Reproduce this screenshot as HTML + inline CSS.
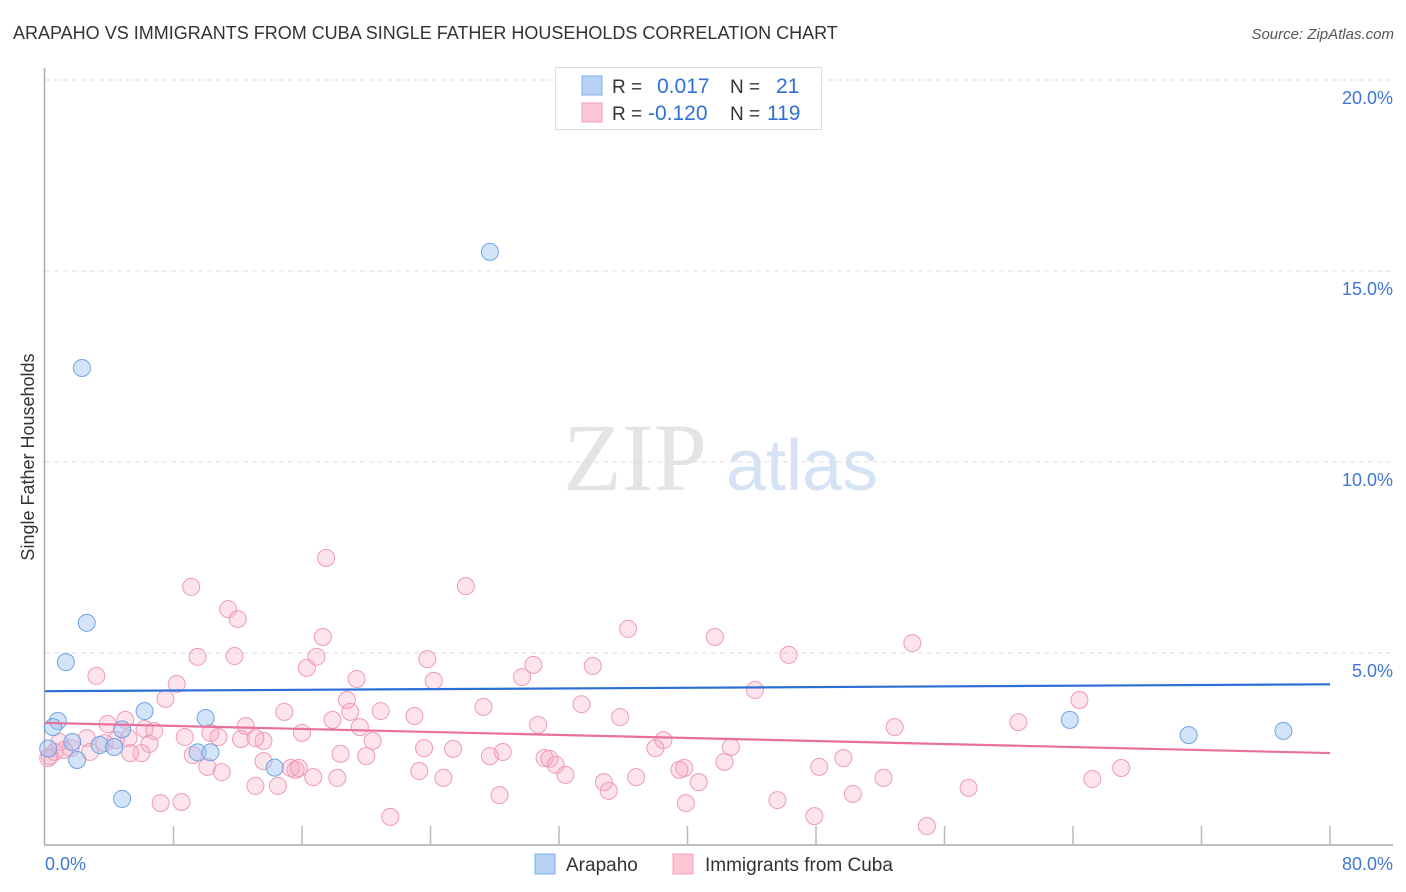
<!DOCTYPE html>
<html><head><meta charset="utf-8"><style>
body{margin:0;background:#fff;font-family:"Liberation Sans",sans-serif;}
svg{display:block}
</style></head><body>
<svg id="chart" width="1406" height="892" xmlns="http://www.w3.org/2000/svg">
<text x="13" y="39" font-size="18" fill="#333">ARAPAHO VS IMMIGRANTS FROM CUBA SINGLE FATHER HOUSEHOLDS CORRELATION CHART</text>
<text x="1394" y="39" font-size="15" fill="#555" font-style="italic" text-anchor="end">Source: ZipAtlas.com</text>
<g><text x="635" y="490" font-size="96" fill="#e4e4e4" font-family="Liberation Serif,serif" text-anchor="middle">ZIP</text><text x="802" y="490" font-size="72" fill="#d5e3f5" text-anchor="middle">atlas</text></g>
<text transform="translate(34,457) rotate(-90)" font-size="18" fill="#333" text-anchor="middle">Single Father Households</text>
<g id="grid"></g><g id="axes"></g><g id="marks"></g>
<g>
<rect x="555.5" y="67.5" width="266" height="62" fill="#fff" stroke="#ddd"/>
<rect x="582" y="76" width="20" height="19" fill="#b7d2f5" stroke="#7aaee8"/>
<rect x="582" y="103" width="20" height="19" fill="#fcc6d5" stroke="#f0a0bc"/>
<text x="612" y="93" font-size="19" fill="#333">R =</text><text x="657" y="93" font-size="21" fill="#2f6fd6">0.017</text>
<text x="730" y="93" font-size="19" fill="#333">N =</text><text x="776" y="93" font-size="21" fill="#2f6fd6">21</text>
<text x="612" y="120" font-size="19" fill="#333">R =</text><text x="648" y="120" font-size="21" fill="#2f6fd6">-0.120</text>
<text x="730" y="120" font-size="19" fill="#333">N =</text><text x="767" y="120" font-size="21" fill="#2f6fd6">119</text>
</g>
<g>
<rect x="535" y="854" width="20" height="20" fill="#b7d2f5" stroke="#7aaee8"/>
<text x="566" y="871" font-size="19" fill="#333">Arapaho</text>
<rect x="673" y="854" width="20" height="20" fill="#fcc6d5" stroke="#f0a0bc"/>
<text x="705" y="871" font-size="19" fill="#333">Immigrants from Cuba</text>
</g>
</svg>
<script>
const yTicks=[5,10,15,20];
const yTickLabels=["5.0%","10.0%","15.0%","20.0%"];
const xTicks=[0,8,16,24,32,40,48,56,64,72,80];
const blueX=[27.7,2.3,2.6,1.3,0.8,0.5,1.7,2.0,3.4,4.3,4.8,6.2,10.0,9.5,10.3,14.3,4.8,63.8,71.2,77.1,0.2];
const blueY=[15.5,12.46,5.79,4.76,3.22,3.06,2.67,2.2,2.59,2.54,3.0,3.48,3.3,2.4,2.4,2.0,1.18,3.25,2.85,2.96,2.5];
const pinkX=[17.5,26.2,9.1,11.4,12.0,36.3,17.3,41.7,54.0,9.5,11.8,16.9,23.8,34.1,30.4,16.3,3.2,19.4,24.2,29.7,8.2,44.2,46.3,7.5,18.8,64.4,27.3,19.0,20.9,14.9,23.0,35.8,17.9,60.6,5.0,12.5,3.9,52.9,30.7,6.2,6.8,19.6,33.4,10.3,8.7,10.8,5.2,12.2,13.6,13.1,16.0,20.4,38.5,0.9,2.6,3.7,4.4,6.5,1.6,2.8,1.2,0.3,0.6,6.0,5.3,23.6,25.4,28.5,27.7,38.0,42.7,18.4,20.0,9.2,10.1,13.6,31.1,31.4,49.7,31.8,42.3,15.3,15.6,15.8,39.8,39.5,48.2,11.0,16.7,18.2,23.3,24.8,32.4,36.8,67.0,52.2,65.2,34.8,35.1,40.7,13.1,14.5,57.5,28.3,50.3,7.2,8.5,39.9,45.6,21.5,47.9,54.9,0.2];
const pinkY=[7.49,6.75,6.73,6.15,5.89,5.63,5.42,5.42,5.26,4.90,4.92,4.90,4.84,4.66,4.69,4.61,4.40,4.32,4.27,4.37,4.19,4.03,4.95,3.80,3.77,3.77,3.59,3.46,3.48,3.46,3.35,3.32,3.25,3.19,3.25,3.09,3.14,3.06,3.12,3.01,2.96,3.06,3.66,2.91,2.80,2.80,2.77,2.75,2.70,2.77,2.91,2.70,2.72,2.67,2.77,2.64,2.72,2.62,2.51,2.41,2.46,2.30,2.41,2.38,2.38,2.51,2.49,2.41,2.30,2.51,2.54,2.36,2.30,2.33,2.02,2.17,2.25,2.23,2.25,2.07,2.15,1.99,1.94,1.99,1.99,1.94,2.02,1.88,1.75,1.73,1.91,1.73,1.81,1.75,1.99,1.73,1.70,1.62,1.39,1.62,1.52,1.52,1.47,1.28,1.31,1.07,1.10,1.07,1.15,0.71,0.73,0.47,2.25];
const trendX=[0,80];
const blueTrend=[4.0,4.18];
const pinkTrend=[3.17,2.38];
const NS="http://www.w3.org/2000/svg";
const X0=45,X1=1330,Y0=844,Y20=80;
function xs(v){return X0+(v/80)*(X1-X0);}
function ys(v){return Y0-(v/20)*(Y0-Y20);}
function mk(tag,attrs,parent){const e=document.createElementNS(NS,tag);for(const k in attrs)e.setAttribute(k,attrs[k]);document.getElementById(parent).appendChild(e);return e;}
yTicks.forEach((t,i)=>{
 const l=mk('line',{x1:X0,x2:1393,y1:ys(t),y2:ys(t),stroke:'#ddd','stroke-dasharray':'5,4'},'grid');
 
 
 const tx=mk('text',{x:1393,y:ys(t)+24,'font-size':18,fill:'#3f77d2','text-anchor':'end'},'grid');
 tx.textContent=yTickLabels[i];
 
 
});
let a=mk('line',{x1:44.5,x2:44.5,y1:68,y2:845,stroke:'#aaa','stroke-width':1.5},'axes');


a=mk('line',{x1:44,x2:1393,y1:845,y2:845,stroke:'#aaa','stroke-width':1.5},'axes');


xTicks.forEach(t=>{if(t===0)return;
 const l=mk('line',{x1:xs(t),x2:xs(t),y1:826,y2:845,stroke:'#bbb','stroke-width':1.5},'axes');
 
 
});
let t=mk('text',{x:45,y:870,'font-size':18,fill:'#3f77d2'},'axes');t.textContent='0.0%';


t=mk('text',{x:1393,y:870,'font-size':18,fill:'#3f77d2','text-anchor':'end'},'axes');t.textContent='80.0%';


pinkX.forEach((v,i)=>{
 const c=mk('circle',{cx:xs(v),cy:ys(pinkY[i]),r:8.5,fill:'rgba(246,170,196,0.33)',stroke:'#f09ab8','stroke-width':1},'marks');
 
 
});
blueX.forEach((v,i)=>{
 const c=mk('circle',{cx:xs(v),cy:ys(blueY[i]),r:8.5,fill:'rgba(160,196,240,0.45)',stroke:'#6fa3e6','stroke-width':1},'marks');
 
 
});
let tl=mk('line',{x1:xs(trendX[0]),x2:xs(trendX[1]),y1:ys(pinkTrend[0]),y2:ys(pinkTrend[1]),stroke:'#e8709a','stroke-width':2.2},'marks');


tl=mk('line',{x1:xs(trendX[0]),x2:xs(trendX[1]),y1:ys(blueTrend[0]),y2:ys(blueTrend[1]),stroke:'#2b6fd6','stroke-width':2.2},'marks');


</script>
</body></html>
